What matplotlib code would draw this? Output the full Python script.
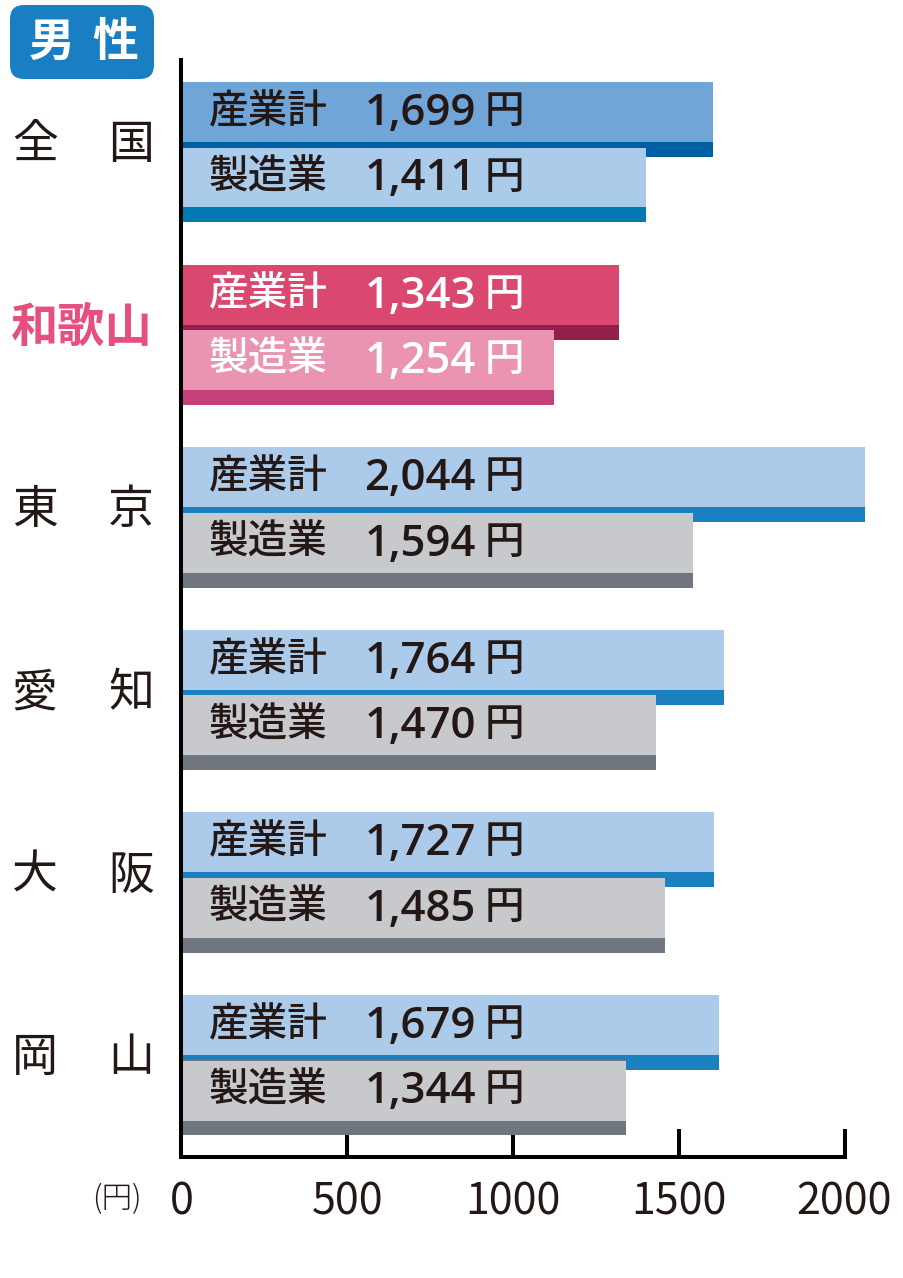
import matplotlib
matplotlib.use('Agg')
import matplotlib.pyplot as plt
from matplotlib.patches import FancyBboxPatch
from matplotlib.transforms import blended_transform_factory, IdentityTransform

plt.rcParams['font.family'] = ['Noto Sans CJK JP', 'DejaVu Sans']

# ---------------- data ----------------
regions = ['全国', '和歌山', '東京', '愛知', '大阪', '岡山']
region_chars = [('全', '国'), ('和歌山',), ('東', '京'), ('愛', '知'), ('大', '阪'), ('岡', '山')]
series_names = ['産業計', '製造業']
total_values = [1699, 1343, 2044, 1764, 1727, 1679]   # printed values (円)
mfg_values = [1411, 1254, 1594, 1470, 1485, 1344]
# bar lengths as drawn in the picture (the source chart is not drawn to scale)
total_bars = [1602, 1321, 2063, 1635, 1605, 1620]
mfg_bars = [1400, 1125, 1544, 1430, 1460, 1342]
xticks = [0, 500, 1000, 1500, 2000]
unit_label = '(円)'
yen = '円'
badge_chars = ['男', '性']

# ---------------- styles ----------------
W, H, DPI = 904, 1278, 100
TXT = '#231815'
styles = {
    '全国': dict(f1='#70a6d7', s1='#005ea2', f2='#abcbea', s2='#0079b5', tc=TXT),
    '和歌山': dict(f1='#da4870', s1='#931f4b', f2='#ea93b3', s2='#c6417b', tc='white'),
}
default_style = dict(f1='#accbea', s1='#1b80bf', f2='#c8c9cd', s2='#6f7680', tc=TXT)

fig = plt.figure(figsize=(W / DPI, H / DPI), dpi=DPI, facecolor='white')

ax_left_px = 181.5
px_per_unit = 663 / 2000
xmax = 2120
top_px, bot_px = 60, 1157
c0, pitch = 152, 182.6
ax = fig.add_axes([ax_left_px / W, (H - bot_px) / H,
                   xmax * px_per_unit / W, (bot_px - top_px) / H])
ax.set_xlim(0, xmax)
ax.set_ylim((bot_px - c0) / pitch, (top_px - c0) / pitch)

pu = 1 / pitch
Hbar, hfill = 75 * pu, 60 * pu
off1, off2 = -70 * pu, -4.5 * pu


def px2x(px):
    return (px - ax_left_px) / px_per_unit


for i, r in enumerate(regions):
    st = styles.get(r, default_style)
    for k, (off, length, val, f, s) in enumerate([
            (off1, total_bars[i], total_values[i], st['f1'], st['s1']),
            (off2, mfg_bars[i], mfg_values[i], st['f2'], st['s2'])]):
        top = i + off
        yc = top + hfill / 2
        ax.barh(top + Hbar / 2, length, height=Hbar, left=0, color=s, linewidth=0, zorder=2 + 2 * k)
        ax.barh(yc, length, height=hfill, left=0, color=f, linewidth=0, zorder=3 + 2 * k)
        ax.text(px2x(209), yc, series_names[k], ha='left', va='center', fontsize=28.5,
                color=st['tc'], fontweight='medium', zorder=10)
        ax.text(px2x(476), yc + 1.5 * pu, f'{val:,}', ha='right', va='center', fontsize=31.5,
                family=['Open Sans', 'DejaVu Sans'], fontweight='semibold',
                color=st['tc'], zorder=10)
        ax.text(px2x(485), yc, yen, ha='left', va='center', fontsize=28.5,
                color=st['tc'], fontweight='medium', zorder=10)

# region labels
tr = blended_transform_factory(fig.transFigure, ax.transData)
for i, chars in enumerate(region_chars):
    y = i - 7 * pu
    if len(chars) == 1:
        ax.text(11 / W, y, chars[0], transform=tr, ha='left', va='center',
                fontsize=34, fontweight='bold', color='#e5507e', clip_on=False)
    else:
        ax.text(12 / W, y, chars[0], transform=tr, ha='left', va='center',
                fontsize=33, color=TXT, clip_on=False)
        ax.text(154 / W, y, chars[1], transform=tr, ha='right', va='center',
                fontsize=33, color=TXT, clip_on=False)

# axes styling
for sp in ['top', 'right']:
    ax.spines[sp].set_visible(False)
ax.spines['left'].set_linewidth(2.9)
ax.spines['bottom'].set_linewidth(2.9)
ax.spines['bottom'].set_bounds(0, 2000)
ax.spines['left'].set_zorder(20)
ax.set_yticks([])
ax.set_xticks(xticks)
ax.set_xticklabels([str(t) for t in xticks])
ax.tick_params(axis='x', direction='in', length=20, width=2.9, pad=17,
               labelsize=31, labelcolor=TXT)

# unit label
fig.text(117 / W, 1 - 1199 / H, unit_label, ha='center', va='center',
         fontsize=22, color=TXT, fontweight='light')

# badge
badge = FancyBboxPatch((10, H - 79), 144, 74, boxstyle='round,pad=0,rounding_size=14',
                       transform=IdentityTransform(), facecolor='#1a7fc2', edgecolor='none')
fig.add_artist(badge)
for cx, ch in zip([51.5, 115], badge_chars):
    fig.text(cx / W, 1 - 43 / H, ch, ha='center', va='center', fontsize=33,
             fontweight='bold', color='white')

fig.savefig('out.png', dpi=DPI, facecolor='white')
